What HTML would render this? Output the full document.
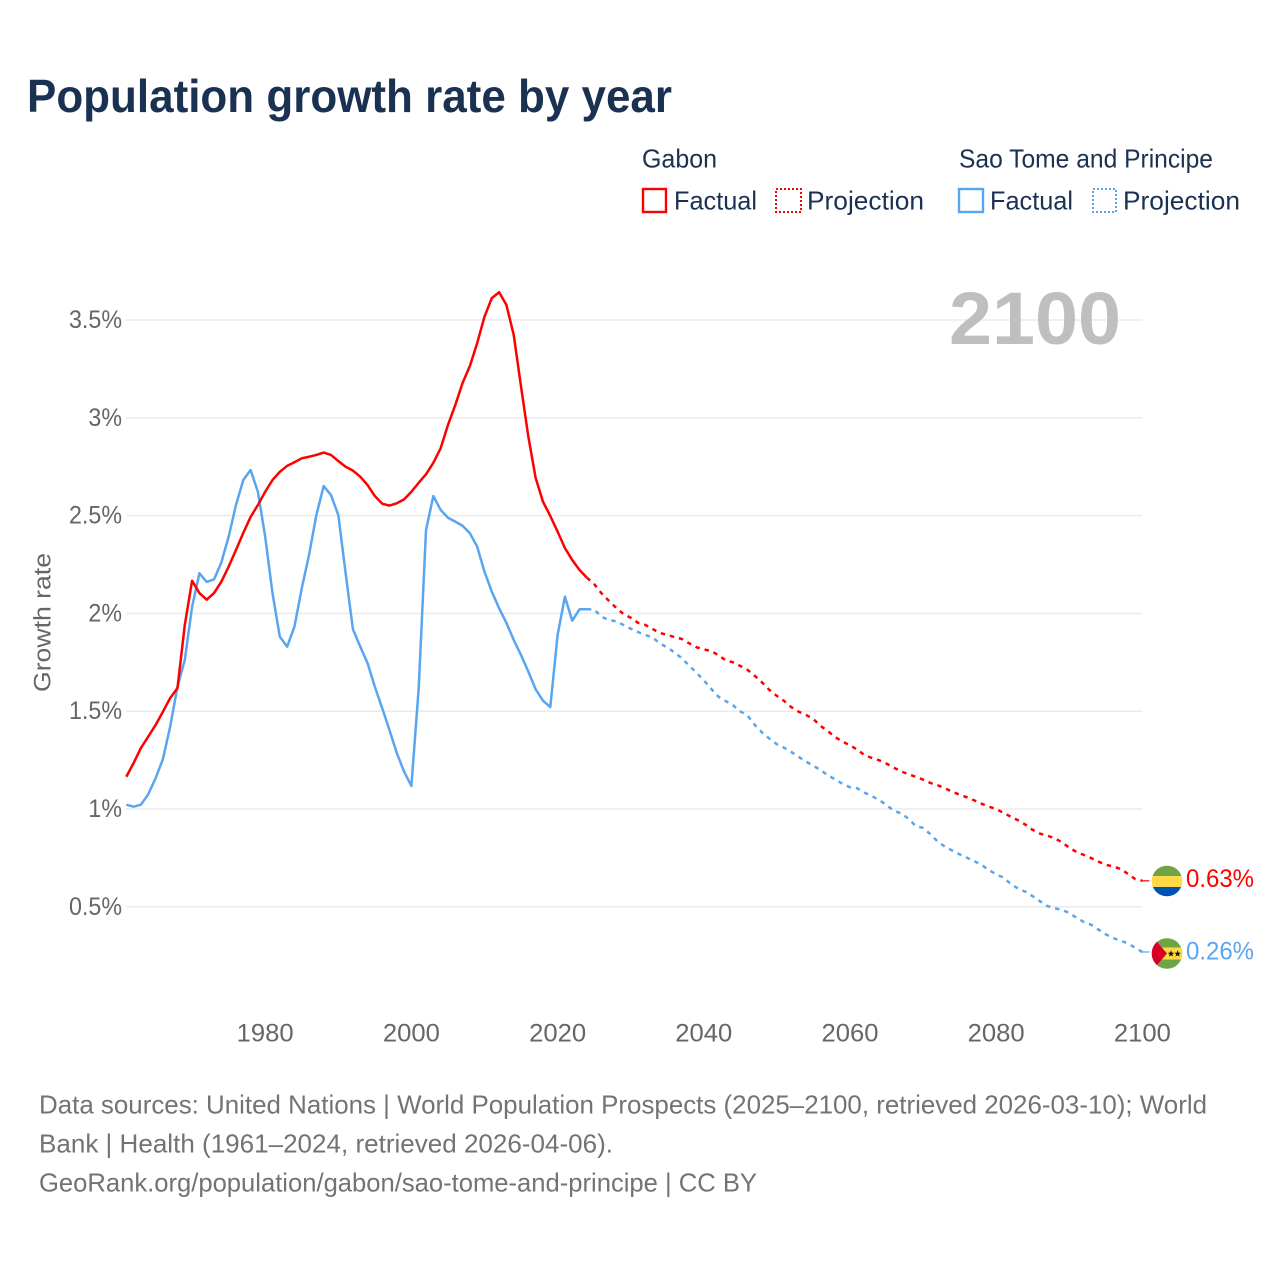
<!DOCTYPE html>
<html lang="en">
<head>
<meta charset="utf-8">
<title>Population growth rate by year</title>
<style>
  html, body { margin: 0; padding: 0; background: #fff; }
  svg { display: block; font-family: "Liberation Sans", sans-serif; }
</style>
</head>
<body>
<svg id="chart" xmlns="http://www.w3.org/2000/svg" width="1280" height="1280" viewBox="0 0 1280 1280">
  <rect width="1280" height="1280" fill="#ffffff"/>
  <text x="27" y="112" font-size="46" font-weight="700" fill="#1a3152" textLength="645" lengthAdjust="spacingAndGlyphs">Population growth rate by year</text>

  <g font-size="26" fill="#1a3152">
    <text x="642" y="167.5" textLength="75" lengthAdjust="spacingAndGlyphs">Gabon</text>
    <text x="959" y="167.5" textLength="254" lengthAdjust="spacingAndGlyphs">Sao Tome and Principe</text>
    <g>
      <rect x="643" y="189" width="23" height="23" fill="none" stroke="#ff0000" stroke-width="2.4"/>
      <text x="674" y="209.5" textLength="83" lengthAdjust="spacingAndGlyphs">Factual</text>
    </g>
    <g>
      <rect x="776" y="189" width="25" height="23" fill="none" stroke="#ff0000" stroke-width="2" stroke-dasharray="2 2"/>
      <text x="807" y="209.5" textLength="117" lengthAdjust="spacingAndGlyphs">Projection</text>
    </g>
    <g>
      <rect x="959" y="189" width="24" height="23" fill="none" stroke="#5aa5f0" stroke-width="2.4"/>
      <text x="990" y="209.5" textLength="83" lengthAdjust="spacingAndGlyphs">Factual</text>
    </g>
    <g>
      <rect x="1093" y="189" width="23" height="23" fill="none" stroke="#5aa5f0" stroke-width="2" stroke-dasharray="2 2"/>
      <text x="1123" y="209.5" textLength="117" lengthAdjust="spacingAndGlyphs">Projection</text>
    </g>
  </g>

  <g id="grid"></g>
  <text x="949" y="344" font-size="74" font-weight="700" fill="#bfbfbf" textLength="172" lengthAdjust="spacingAndGlyphs">2100</text>
  <g id="yTicks" font-size="25" fill="#666666" text-anchor="end"></g>
  <g id="xTicks" font-size="25" fill="#666666" text-anchor="middle"></g>
  <text transform="translate(50.5 622.5) rotate(-90)" font-size="24.5" fill="#666666" text-anchor="middle" textLength="139" lengthAdjust="spacingAndGlyphs">Growth rate</text>
  <g id="series"></g>

  <defs>
    <clipPath id="clipGabon"><circle cx="1167" cy="881" r="15.3"/></clipPath>
    <clipPath id="clipStp"><circle cx="1167" cy="953.5" r="15.3"/></clipPath>
  </defs>
  <g clip-path="url(#clipGabon)">
    <rect x="1151" y="865" width="32" height="11" fill="#6da544"/>
    <rect x="1151" y="876" width="32" height="11" fill="#ffda44"/>
    <rect x="1151" y="887" width="32" height="11" fill="#0052b4"/>
  </g>
  <g clip-path="url(#clipStp)">
    <rect x="1151" y="937" width="32" height="33" fill="#6da544"/>
    <rect x="1151" y="947.5" width="32" height="12" fill="#ffda44"/>
    <polygon points="1151,935 1167,953.5 1151,972" fill="#d80027"/>
    <polygon points="1171,950.3 1171.9,952.7 1174.3,952.7 1172.4,954.2 1173.1,956.6 1171,955.2 1168.9,956.6 1169.6,954.2 1167.7,952.7 1170.1,952.7" fill="#111111"/>
    <polygon points="1177.6,950.3 1178.5,952.7 1180.9,952.7 1179,954.2 1179.7,956.6 1177.6,955.2 1175.5,956.6 1176.2,954.2 1174.3,952.7 1176.7,952.7" fill="#111111"/>
  </g>
  <text x="1186" y="887" font-size="25" fill="#ff0000" textLength="68" lengthAdjust="spacingAndGlyphs">0.63%</text>
  <text x="1186" y="959.5" font-size="25" fill="#5aa5f0" textLength="68" lengthAdjust="spacingAndGlyphs">0.26%</text>

  <g font-size="26" fill="#737373">
    <text x="39" y="1113.5" textLength="1168" lengthAdjust="spacingAndGlyphs">Data sources: United Nations | World Population Prospects (2025–2100, retrieved 2026-03-10); World</text>
    <text x="39" y="1152.5" textLength="574" lengthAdjust="spacingAndGlyphs">Bank | Health (1961–2024, retrieved 2026-04-06).</text>
    <text x="39" y="1191.5" textLength="718" lengthAdjust="spacingAndGlyphs">GeoRank.org/population/gabon/sao-tome-and-principe | CC BY</text>
  </g>
</svg>

<script>
const yTickValues = [0.5, 1, 1.5, 2, 2.5, 3, 3.5];
const yTickLabels = ["0.5%", "1%", "1.5%", "2%", "2.5%", "3%", "3.5%"];
const xTickValues = [1980, 2000, 2020, 2040, 2060, 2080, 2100];
const xTickLabels = ["1980", "2000", "2020", "2040", "2060", "2080", "2100"];
const factualStartYear = 1961;
const projectionStartYear = 2024;

const gabonFactual = [
  1.165,1.235,1.312,1.370,1.429,1.497,1.567,1.619,1.941,2.167,
  2.104,2.070,2.104,2.162,2.239,2.324,2.411,2.493,2.554,2.622,
  2.682,2.724,2.754,2.773,2.793,2.801,2.810,2.822,2.810,2.779,
  2.750,2.730,2.699,2.656,2.600,2.561,2.551,2.563,2.583,2.622,
  2.668,2.711,2.770,2.844,2.963,3.065,3.178,3.265,3.382,3.517,
  3.612,3.642,3.577,3.423,3.159,2.903,2.692,2.571,2.498,2.418,
  2.334,2.273,2.222,2.183
];
const gabonProjection = [
  2.183,2.150,2.103,2.065,2.029,1.997,1.978,1.952,1.941,1.920,1.900,
  1.890,1.879,1.869,1.847,1.827,1.816,1.808,1.786,1.760,1.750,
  1.731,1.711,1.680,1.646,1.608,1.578,1.552,1.520,1.497,1.481,
  1.459,1.424,1.397,1.367,1.344,1.326,1.303,1.275,1.261,1.249,
  1.232,1.211,1.193,1.177,1.165,1.150,1.133,1.121,1.106,1.088,
  1.073,1.060,1.044,1.027,1.012,1.000,0.980,0.961,0.942,0.920,
  0.893,0.874,0.864,0.850,0.830,0.802,0.780,0.765,0.749,0.731,
  0.714,0.707,0.693,0.669,0.642,0.633
];
const saoTomeFactual = [
  1.022,1.012,1.022,1.075,1.157,1.254,1.421,1.625,1.762,2.034,
  2.205,2.161,2.174,2.261,2.392,2.554,2.682,2.733,2.622,2.392,
  2.103,1.881,1.830,1.932,2.128,2.299,2.503,2.651,2.605,2.503,
  2.207,1.919,1.830,1.746,1.625,1.516,1.404,1.286,1.191,1.118,
  1.619,2.426,2.600,2.529,2.489,2.469,2.448,2.410,2.341,2.213,
  2.111,2.026,1.951,1.864,1.787,1.702,1.612,1.554,1.521,1.890,
  2.085,1.963,2.021,2.021
];
const saoTomeProjection = [
  2.021,2.020,1.983,1.966,1.960,1.941,1.922,1.905,1.890,1.876,1.847,
  1.825,1.801,1.770,1.733,1.697,1.658,1.615,1.574,1.552,1.530,
  1.499,1.477,1.429,1.390,1.359,1.331,1.313,1.291,1.266,1.242,
  1.220,1.199,1.171,1.151,1.128,1.111,1.106,1.083,1.066,1.046,
  1.020,0.991,0.978,0.950,0.913,0.903,0.871,0.833,0.807,0.787,
  0.768,0.751,0.733,0.714,0.688,0.666,0.649,0.617,0.593,0.577,
  0.554,0.528,0.504,0.492,0.485,0.468,0.444,0.422,0.408,0.383,
  0.359,0.340,0.327,0.313,0.291,0.269
];

const SVG_NS = "http://www.w3.org/2000/svg";
const xScale = function (year) { return 265.2 + (year - 1980) * 7.31; };
const yScale = function (value) { return 1004.6 - value * 195.6; };
const plotLeft = xScale(factualStartYear);
const plotRight = xScale(2100);

function linePath(values, startYear) {
  return values.map(function (v, i) {
    return (i ? "L" : "M") + xScale(startYear + i).toFixed(2) + " " + yScale(v).toFixed(2);
  }).join(" ");
}

const gridGroup = document.getElementById("grid");
const yTickGroup = document.getElementById("yTicks");
const xTickGroup = document.getElementById("xTicks");
const seriesGroup = document.getElementById("series");

yTickValues.forEach(function (v, i) {
  const line = document.createElementNS(SVG_NS, "line");
  
  
  line.setAttribute("x1", plotLeft);
  line.setAttribute("x2", plotRight);
  line.setAttribute("y1", yScale(v));
  line.setAttribute("y2", yScale(v));
  line.setAttribute("stroke", "#ebebeb");
  line.setAttribute("stroke-width", "1.5");
  gridGroup.appendChild(line);

  const label = document.createElementNS(SVG_NS, "text");
  
  
  label.setAttribute("x", 122);
  label.setAttribute("y", yScale(v) + 8);
  label.textContent = yTickLabels[i];
  yTickGroup.appendChild(label);
  label.setAttribute("textLength", (label.getComputedTextLength() * 0.93).toFixed(1));
  label.setAttribute("lengthAdjust", "spacingAndGlyphs");
});

xTickValues.forEach(function (year, i) {
  const label = document.createElementNS(SVG_NS, "text");
  
  
  label.setAttribute("x", xScale(year));
  label.setAttribute("y", 1041.5);
  label.textContent = xTickLabels[i];
  xTickGroup.appendChild(label);
  label.setAttribute("textLength", "57");
  label.setAttribute("lengthAdjust", "spacingAndGlyphs");
});

function addLine(name, values, startYear, colour, dashed) {
  const path = document.createElementNS(SVG_NS, "path");
  
  
  path.setAttribute("d", linePath(values, startYear));
  path.setAttribute("fill", "none");
  path.setAttribute("stroke", colour);
  path.setAttribute("stroke-width", "2.5");
  path.setAttribute("stroke-linejoin", "round");
  if (dashed) { path.setAttribute("stroke-dasharray", "4.4 5"); }
  seriesGroup.appendChild(path);
}

addLine('series-sao-tome-factual', saoTomeFactual, factualStartYear, "#5aa5f0", false);
addLine('series-sao-tome-projection', saoTomeProjection, projectionStartYear, "#5aa5f0", true);
addLine('series-gabon-factual', gabonFactual, factualStartYear, "#ff0000", false);
addLine('series-gabon-projection', gabonProjection, projectionStartYear, "#ff0000", true);

function addConnector(name, value, colour) {
  const c = document.createElementNS(SVG_NS, "line");
  
  
  c.setAttribute("x1", plotRight - 2);
  c.setAttribute("x2", plotRight + 7);
  c.setAttribute("y1", yScale(value));
  c.setAttribute("y2", yScale(value));
  c.setAttribute("stroke", colour);
  c.setAttribute("stroke-width", "1.5");
  c.setAttribute("opacity", "0.8");
  seriesGroup.appendChild(c);
}
addConnector('connector-gabon', gabonProjection[gabonProjection.length - 1], "#ff0000");
addConnector('connector-sao-tome', saoTomeProjection[saoTomeProjection.length - 1], "#5aa5f0");
</script>
</body>
</html>
